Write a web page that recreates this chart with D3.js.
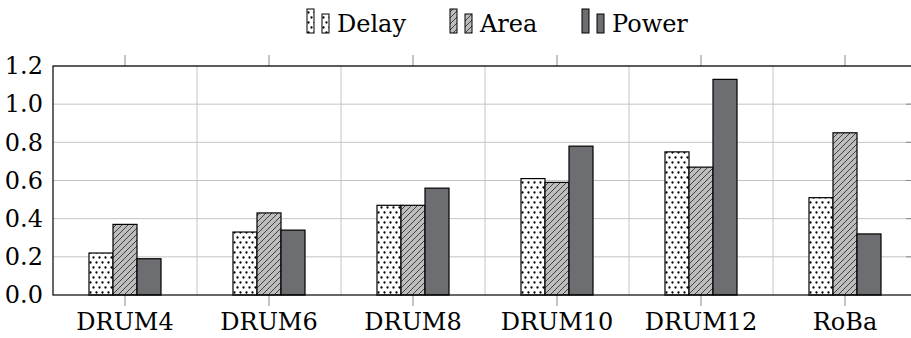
<!DOCTYPE html>
<html>
<head>
<meta charset="utf-8">
<script src="https://cdn.jsdelivr.net/npm/d3@7"></script>
<style>
  html, body { margin: 0; padding: 0; background: #fff; }
  svg { display: block; }
  svg text { font-family: "DejaVu Serif", serif !important; }
</style>
</head>
<body>
<svg id="chart" width="911" height="338"></svg>
<script>
// Normalised delay / area / power per design
const categories = ["DRUM4", "DRUM6", "DRUM8", "DRUM10", "DRUM12", "RoBa"];
const seriesNames = ["Delay", "Area", "Power"];
const delay = [0.22, 0.33, 0.47, 0.61, 0.75, 0.51];
const area  = [0.37, 0.43, 0.47, 0.59, 0.67, 0.85];
const power = [0.19, 0.34, 0.56, 0.78, 1.13, 0.32];
const yTicks = [0, 0.2, 0.4, 0.6, 0.8, 1.0, 1.2];

const seriesValues = [delay, area, power];
const FS = 24;

const svg = d3.select("#chart");
const margin = { left: 53, right: -6, top: 66, bottom: 43 };
const W = 911, H = 338;
const x0 = margin.left, x1 = W - margin.right;
const yTop = margin.top, yBot = H - margin.bottom;

const x = d3.scaleBand().domain(categories).range([x0, x1]).padding(0);
const xs = d3.scaleBand().domain(seriesNames).range([-36, 36]).padding(0);
const y = d3.scaleLinear().domain([0, 1.2]).range([yBot, yTop]);

// fill patterns
const defs = svg.append("defs");
const dots = defs.append("pattern").attr("id", "dots")
  .attr("patternUnits", "userSpaceOnUse").attr("width", 6).attr("height", 10);
dots.append("rect").attr("width", 6).attr("height", 10).attr("fill", "#fff");
dots.selectAll("circle").data([[1.5, 2.5], [4.5, 7.5]]).join("circle")
  .attr("cx", d => d[0]).attr("cy", d => d[1]).attr("r", 1.15).attr("fill", "#000");

const hatch = defs.append("pattern").attr("id", "hatch")
  .attr("patternUnits", "userSpaceOnUse").attr("width", 6).attr("height", 6);
hatch.append("rect").attr("width", 6).attr("height", 6).attr("fill", "#bdbdbd");
hatch.append("path").attr("d", "M-1,7 L7,-1 M-4,4 L4,-4 M2,10 L10,2")
  .attr("stroke", "#222").attr("stroke-width", 0.8);

const fills = { Delay: "url(#dots)", Area: "url(#hatch)", Power: "#6d6e71" };

// grid
const grid = svg.append("g");
grid.selectAll("line.hg").data(yTicks.slice(1)).join("line")
  .attr("x1", x0).attr("x2", x1)
  .attr("y1", d => y(d)).attr("y2", d => y(d))
  .attr("stroke", "#c4c4c4").attr("stroke-width", 1);
grid.selectAll("line.vg").data(categories.slice(1)).join("line")
  .attr("x1", d => x(d)).attr("x2", d => x(d))
  .attr("y1", yTop).attr("y2", yBot)
  .attr("stroke", "#c4c4c4").attr("stroke-width", 1);

// y axis tick labels
const yAxis = d3.axisLeft(y).tickValues(yTicks).tickFormat(d3.format(".1f")).tickSize(0).tickPadding(10);
const ya = svg.append("g").attr("transform", `translate(${x0},0)`).call(yAxis)
  .attr("font-size", FS);
ya.select(".domain").remove();
ya.selectAll("text").attr("fill", "#000");

// right-side y ticks (inward)
svg.append("g").selectAll("line").data(yTicks.slice(1, -1)).join("line")
  .attr("x1", x1 - 11).attr("x2", x1)
  .attr("y1", d => y(d)).attr("y2", d => y(d))
  .attr("stroke", "#888").attr("stroke-width", 1);

// x axis ticks + labels
const xAxis = d3.axisBottom(x).tickSize(11).tickPadding(7);
const xa = svg.append("g").attr("transform", `translate(0,${yBot})`).call(xAxis)
  .attr("font-size", FS);
xa.select(".domain").remove();
xa.selectAll("line").attr("stroke", "#888");
xa.selectAll("text").attr("fill", "#000");

const xTop = d3.axisTop(x).tickSize(11).tickFormat("");
const xt = svg.append("g").attr("transform", `translate(0,${yTop})`).call(xTop);
xt.select(".domain").remove();
xt.selectAll("line").attr("stroke", "#888");

// bars
const groups = svg.append("g").selectAll("g").data(categories).join("g")
  .attr("transform", d => `translate(${x(d) + x.bandwidth() / 2},0)`);
groups.selectAll("rect").data((d, i) => seriesNames.map((s, k) => ({ s, v: seriesValues[k][i] })))
  .join("rect")
  .attr("x", d => xs(d.s))
  .attr("width", xs.bandwidth())
  .attr("y", d => y(d.v))
  .attr("height", d => yBot - y(d.v))
  .attr("fill", d => fills[d.s])
  .attr("stroke", "#000").attr("stroke-width", 1.2);

// frame
svg.append("rect").attr("x", x0).attr("y", yTop)
  .attr("width", x1 - x0).attr("height", yBot - yTop)
  .attr("fill", "none").attr("stroke", "#000").attr("stroke-width", 1.2);

// legend
const legendX = [307, 450, 582];
const legend = svg.append("g");
seriesNames.forEach((s, i) => {
  const g = legend.append("g").attr("transform", `translate(${legendX[i]},0)`);
  g.append("rect").attr("x", 0).attr("y", 9).attr("width", 7).attr("height", 24)
    .attr("fill", fills[s]).attr("stroke", "#000").attr("stroke-width", 1);
  g.append("rect").attr("x", 15).attr("y", 14).attr("width", 7).attr("height", 19)
    .attr("fill", fills[s]).attr("stroke", "#000").attr("stroke-width", 1);
  g.append("text").attr("x", 30).attr("y", 32).attr("font-size", FS).text(s);
});
</script>
</body>
</html>
